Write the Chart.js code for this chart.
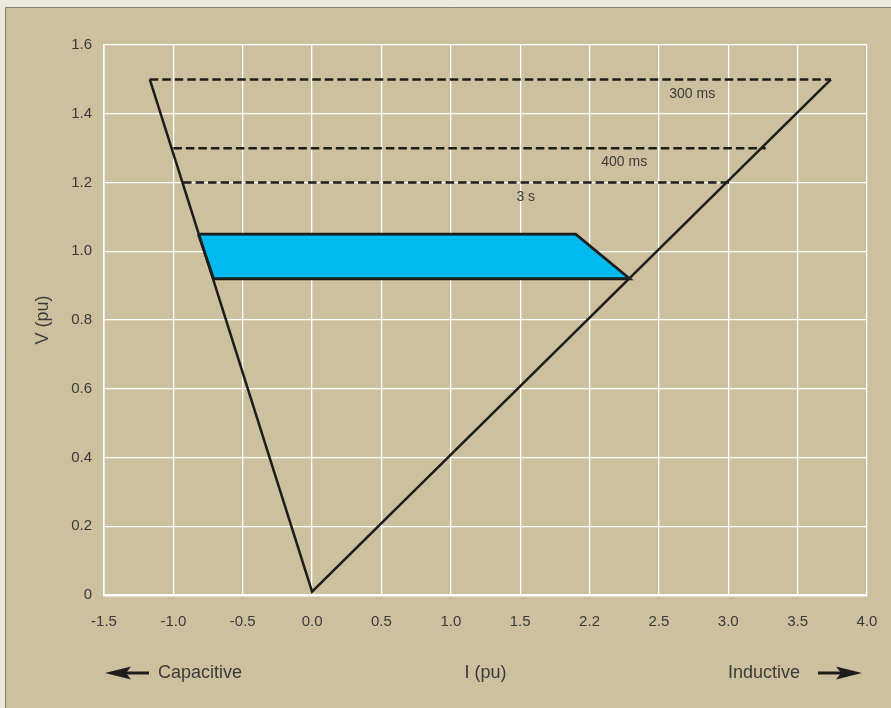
<!DOCTYPE html>
<html lang="en">
<head>
<meta charset="UTF-8">
<title>V-I characteristic</title>
<script src="https://cdn.jsdelivr.net/npm/chart.js@4.4.0/dist/chart.umd.min.js"></script>
<style>
  body { margin: 0; background: #cdc09f; }
  #wrap { width: 891px; height: 708px; }
</style>
</head>
<body>
<div id="wrap"><canvas id="vi" width="891" height="708"></canvas></div>
<script>
// tick labels as printed (the "2.2" is in the original figure)
const xTickLabels = ["-1.5", "-1.0", "-0.5", "0.0", "0.5", "1.0", "1.5", "2.2", "2.5", "3.0", "3.5", "4.0"];
const yTickLabels = ["0", "0.2", "0.4", "0.6", "0.8", "1.0", "1.2", "1.4", "1.6"];

// V-I limit envelope (capacitive side, origin, inductive side)
const limitX = [-1.17, 0.0, 3.74];
const limitY = [1.5, 0.01, 1.5];

// overvoltage time limits
const line300X = [-1.17, 3.74];
const line300Y = [1.5, 1.5];
const line400X = [-1.0, 3.27];
const line400Y = [1.3, 1.3];
const line3sX = [-0.93, 3.02];
const line3sY = [1.2, 1.2];

// continuous operating band
const bandX = [-0.82, 1.90, 2.29, -0.71, -0.82];
const bandY = [1.05, 1.05, 0.92, 0.92, 1.05];

// labels on the dashed lines
const noteText = ["300 ms", "400 ms", "3 s"];
const noteX = [2.74, 2.25, 1.54];
const noteY = [1.457, 1.258, 1.158];

const FONT = "'Liberation Sans', Arial, sans-serif";
const INK = "#1d1d1b";
const TEXT = "#3a3a3a";

function pts(xs, ys) {
    return xs.map((x, i) => ({ x: x, y: ys[i] }));
}

const frame = {
    id: 'frame',
    beforeDraw(chart) {
        const ctx = chart.ctx;
        ctx.save();
        ctx.fillStyle = '#ebe8e0';
        ctx.fillRect(0, 0, chart.width, chart.height);
        ctx.fillStyle = '#cdc09f';
        ctx.fillRect(5, 7, chart.width - 5, chart.height - 7);
        ctx.strokeStyle = '#857c6b';
        ctx.lineWidth = 1;
        ctx.beginPath();
        ctx.moveTo(5.5, chart.height);
        ctx.lineTo(5.5, 7.5);
        ctx.lineTo(chart.width, 7.5);
        ctx.stroke();
        ctx.restore();
    }
};

const notes = {
    id: 'notes',
    afterDatasetsDraw(chart) {
        const ctx = chart.ctx;
        const xs = chart.scales.x, ys = chart.scales.y;
        ctx.save();
        ctx.font = "14px " + FONT;
        ctx.fillStyle = TEXT;
        ctx.textAlign = 'center';
        ctx.textBaseline = 'middle';
        noteText.forEach((t, i) => {
            ctx.fillText(t, xs.getPixelForValue(noteX[i]), ys.getPixelForValue(noteY[i]));
        });
        ctx.restore();
    }
};

// "Capacitive" / "Inductive" with arrows under the x axis
const sides = {
    id: 'sides',
    afterDraw(chart) {
        const ctx = chart.ctx;
        const a = chart.chartArea;
        const y = 673;
        ctx.save();
        ctx.fillStyle = TEXT;
        ctx.font = "18px " + FONT;
        ctx.textBaseline = 'middle';
        ctx.textAlign = 'left';
        ctx.fillText("Capacitive", a.left + 54, y);
        ctx.textAlign = 'right';
        ctx.fillText("Inductive", a.right - 67, y);

        ctx.fillStyle = INK;
        ctx.strokeStyle = INK;
        ctx.lineWidth = 3;
        // left arrow
        let tip = a.left + 1;
        ctx.beginPath();
        ctx.moveTo(tip + 16, y);
        ctx.lineTo(tip + 44, y);
        ctx.stroke();
        ctx.beginPath();
        ctx.moveTo(tip, y);
        ctx.lineTo(tip + 26, y - 6.5);
        ctx.lineTo(tip + 21, y);
        ctx.lineTo(tip + 26, y + 6.5);
        ctx.closePath();
        ctx.fill();
        // right arrow
        tip = a.right - 5;
        ctx.beginPath();
        ctx.moveTo(tip - 44, y);
        ctx.lineTo(tip - 16, y);
        ctx.stroke();
        ctx.beginPath();
        ctx.moveTo(tip, y);
        ctx.lineTo(tip - 26, y - 6.5);
        ctx.lineTo(tip - 21, y);
        ctx.lineTo(tip - 26, y + 6.5);
        ctx.closePath();
        ctx.fill();
        ctx.restore();
    }
};

const dashed = {
    showLine: true,
    borderColor: INK,
    borderWidth: 2.5,
    borderDash: [8.5, 4],
    pointRadius: 0,
    fill: false,
    order: 2
};

new Chart(document.getElementById("vi"), {
    type: "scatter",
    data: {
        datasets: [
            {
                label: "band",
                data: pts(bandX, bandY),
                showLine: true,
                borderColor: INK,
                borderWidth: 2.8,
                backgroundColor: "#00b9ef",
                fill: 'shape',
                pointRadius: 0,
                order: 3
            },
            {
                label: "limit",
                data: pts(limitX, limitY),
                showLine: true,
                borderColor: INK,
                borderWidth: 2.5,
                pointRadius: 0,
                fill: false,
                order: 1
            },
            Object.assign({ label: "300 ms", data: pts(line300X, line300Y) }, dashed),
            Object.assign({ label: "400 ms", data: pts(line400X, line400Y) }, dashed),
            Object.assign({ label: "3 s", data: pts(line3sX, line3sY) }, dashed)
        ]
    },
    options: {
        responsive: false,
        animation: false,
        clip: false,
        layout: { padding: { left: 0, top: 45, right: 24, bottom: 0 } },
        plugins: {
            legend: { display: false },
            tooltip: { enabled: false }
        },
        scales: {
            x: {
                type: 'linear',
                min: -1.5,
                max: 4.0,
                afterFit(scale) {
                    scale.height = 113;
                    scale.paddingLeft = 0;
                    scale.paddingRight = 0;
                },
                grid: { color: "#ffffff", lineWidth: 1.3, drawTicks: false },
                border: { color: "#ffffff", width: 2.5 },
                ticks: {
                    stepSize: 0.5,
                    padding: 18,
                    color: TEXT,
                    font: { size: 15, family: FONT },
                    callback: (v, i) => xTickLabels[i]
                },
                title: {
                    display: true,
                    text: "I (pu)",
                    color: TEXT,
                    font: { size: 18, family: FONT },
                    padding: { top: 0, bottom: 24 }
                }
            },
            y: {
                min: 0,
                max: 1.6,
                afterFit(scale) {
                    scale.width = 104;
                    scale.paddingTop = 0;
                    scale.paddingBottom = 0;
                },
                grid: { color: "#ffffff", lineWidth: 1.3, drawTicks: false },
                border: { color: "#ffffff", width: 1.5 },
                ticks: {
                    stepSize: 0.2,
                    padding: 12,
                    color: TEXT,
                    font: { size: 15, family: FONT },
                    callback: (v, i) => yTickLabels[i]
                },
                title: {
                    display: true,
                    text: "V (pu)",
                    color: TEXT,
                    font: { size: 18, family: FONT },
                    padding: { top: 32, bottom: 0 }
                }
            }
        }
    },
    plugins: [frame, notes, sides]
});
</script>
</body>
</html>
